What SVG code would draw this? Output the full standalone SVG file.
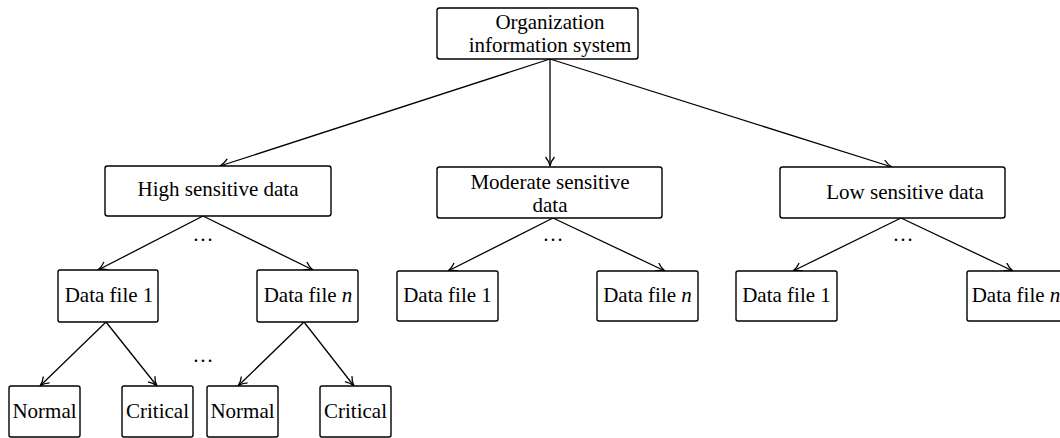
<svg xmlns="http://www.w3.org/2000/svg" width="1060" height="438" viewBox="0 0 1060 438">
<defs>
<marker id="arr" markerUnits="userSpaceOnUse" markerWidth="14" markerHeight="14" refX="10" refY="5" orient="auto">
<path d="M1,0.5 Q5,4 10,5 Q5,6 1,9.5" fill="none" stroke="#000" stroke-width="1.3"/>
</marker>
</defs>
<style>
rect{fill:#fff;stroke:#000;stroke-width:1.4}
text{font-family:"Liberation Serif","Times New Roman",serif;font-size:21px;fill:#000;text-anchor:middle}
.c line{stroke:#000;stroke-width:1.3;marker-end:url(#arr)}
.dots{font-size:21px}
</style>
<rect x="0" y="0" width="1060" height="438" style="fill:#fff;stroke:none"/>
<g class="c" id="connectors">
<line x1="550" y1="59" x2="220" y2="166"/>
<line x1="550" y1="59" x2="550" y2="166"/>
<line x1="550" y1="59" x2="892" y2="167"/>
<line x1="203" y1="216" x2="98" y2="270"/>
<line x1="203" y1="216" x2="313" y2="270"/>
<line x1="553" y1="218" x2="448" y2="271"/>
<line x1="553" y1="218" x2="665" y2="271"/>
<line x1="901" y1="218" x2="793" y2="271"/>
<line x1="901" y1="218" x2="1013" y2="271"/>
<line x1="106" y1="322" x2="40" y2="386"/>
<line x1="106" y1="322" x2="157" y2="386"/>
<line x1="304" y1="322" x2="238" y2="386"/>
<line x1="304" y1="322" x2="354" y2="386"/>
</g>
<g id="dots">
<text class="dots" x="203" y="241">…</text>
<text class="dots" x="553" y="241">…</text>
<text class="dots" x="903" y="241">…</text>
<text class="dots" x="203" y="362">…</text>
</g>
<g id="root"><rect x="437" y="8" width="201" height="51" rx="2.5"/><text x="550" y="29">Organization<tspan x="550" y="52">information system</tspan></text></g>
<g id="high"><rect x="105" y="166" width="226" height="50" rx="2.5"/><text x="218" y="196">High sensitive data</text></g>
<g id="moderate"><rect x="437" y="167" width="225" height="51" rx="2.5"/><text x="550" y="189">Moderate sensitive<tspan x="550" y="212">data</tspan></text></g>
<g id="low"><rect x="780" y="167" width="225" height="51" rx="2.5"/><text x="905" y="199">Low sensitive data</text></g>
<g id="h1"><rect x="58" y="270" width="100" height="52" rx="2"/><text x="109" y="302">Data file 1</text></g>
<g id="hn"><rect x="257" y="270" width="101" height="52" rx="2"/><text x="308" y="302">Data file <tspan font-style="italic">n</tspan></text></g>
<g id="m1"><rect x="397" y="271" width="101" height="50" rx="2"/><text x="447.5" y="302">Data file 1</text></g>
<g id="mn"><rect x="597" y="271" width="101" height="50" rx="2"/><text x="647.5" y="302">Data file <tspan font-style="italic">n</tspan></text></g>
<g id="l1"><rect x="736" y="271" width="101" height="50" rx="2"/><text x="786.5" y="302">Data file 1</text></g>
<g id="ln"><rect x="967" y="271" width="101" height="50" rx="2"/><text x="1016" y="302">Data file <tspan font-style="italic">n</tspan></text></g>
<g id="n1"><rect x="9" y="386" width="71" height="51" rx="2"/><text x="44.5" y="418">Normal</text></g>
<g id="c1"><rect x="122" y="386" width="71" height="51" rx="2"/><text x="157.5" y="418">Critical</text></g>
<g id="n2"><rect x="207" y="386" width="71" height="51" rx="2"/><text x="242.5" y="418">Normal</text></g>
<g id="c2"><rect x="320" y="386" width="71" height="51" rx="2"/><text x="355.5" y="418">Critical</text></g>
</svg>
